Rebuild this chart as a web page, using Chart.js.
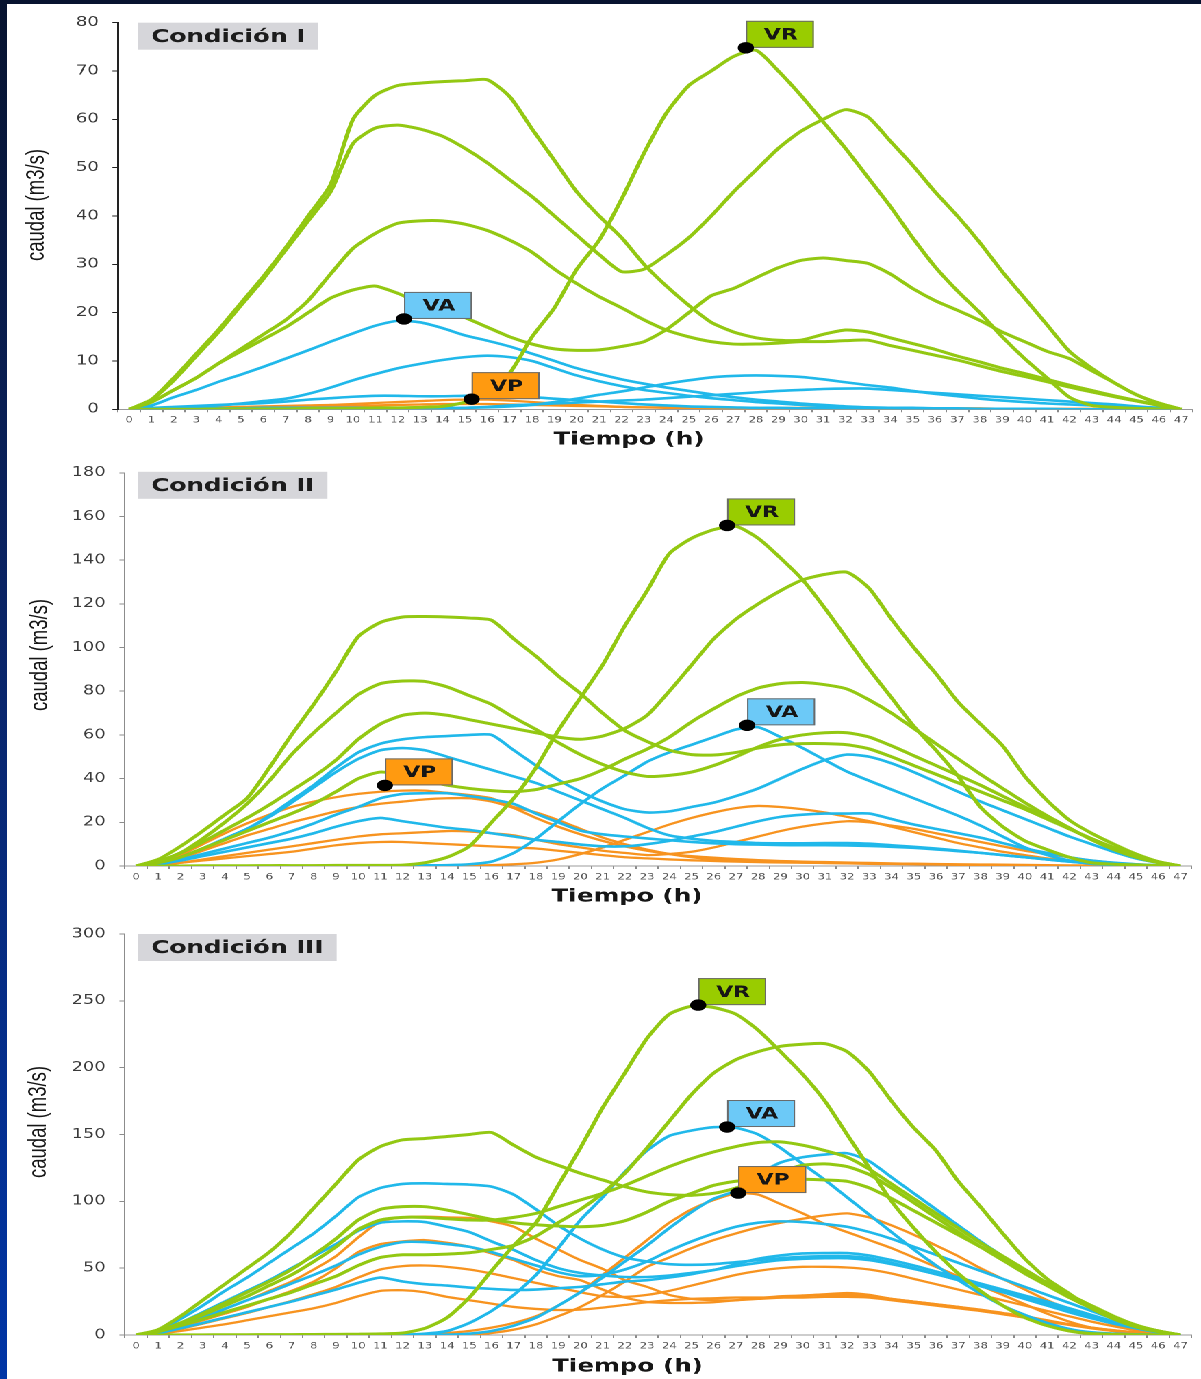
<!DOCTYPE html>
<html>
<head>
<meta charset="utf-8">
<script src="https://cdn.jsdelivr.net/npm/chart.js@4.4.1/dist/chart.umd.min.js"></script>
<style>
  html,body{margin:0;padding:0;}
  body{width:1201px;height:1379px;overflow:hidden;position:relative;
       background:linear-gradient(#07132f 0%,#0a2466 45%,#0035a6 100%);}
  #paper{position:absolute;left:7px;top:4px;right:0;bottom:0;background:#fff;}
  #stage{position:absolute;left:0;top:0;width:877px;height:1379px;
         transform:scaleX(1.36944);transform-origin:0 0;}
  canvas{position:absolute;left:0;}
</style>
</head>
<body>
<div id="paper"></div>
<div id="stage">
  <canvas id="c1" width="877" height="455" style="top:0px"></canvas>
  <canvas id="c2" width="877" height="455" style="top:455px"></canvas>
  <canvas id="c3" width="877" height="469" style="top:910px"></canvas>
</div>
<script>
// ---------- categories / texts ----------
const hours = ['0','1','2','3','4','5','6','7','8','9','10','11','12','13','14','15','16','17','18','19','20','21','22','23','24','25','26','27','28','29','30','31','32','33','34','35','36','37','38','39','40','41','42','43','44','45','46','47'];
const conditionTitles = ['Condición I', 'Condición II', 'Condición III'];
const xTitle = 'Tiempo (h)';
const yTitle = 'caudal (m3/s)';
const yTicks1 = [0, 80, 10];
const yTicks2 = [0, 180, 20];
const yTicks3 = [0, 300, 50];

// ---------- Condición I ----------
const c1Green68 = [0,2,6.5,11.5,16.5,22,27.5,33.5,40,46.5,60,65,67,67.5,67.8,68,68.2,64.7,58,51.5,45,40,35.5,30,25.5,21.5,18,16,14.8,14.3,14.3,15.5,16.4,16,14.8,13.6,12.4,11,9.8,8.5,7.4,6.2,5,3.9,2.8,1.8,0.9,0];
const c1Green58 = [0,2,6,11,16,21.5,27,33,39,45,55,58.2,58.8,58,56.5,54,51,47.5,44,40,36,32,28.5,29,32,35.5,40,45,49.5,54,57.5,60,62,60.5,55.5,50.5,45,40,34.5,28.5,23,17.5,12,8.5,5.5,3,1.2,0];
const c1Green39 = [0,1.5,4,6.5,9.5,12.5,15.5,18.5,22.5,28,33.3,36.4,38.5,39,39,38.3,37,35,32.5,29,26,23.3,21,18.5,16.4,15,14,13.5,13.5,13.7,14,14,14.2,14.3,13.2,12.2,11.2,10.2,9,7.8,6.8,5.7,4.6,3.6,2.6,1.7,0.8,0];
const c1Green25 = [0,1.5,4,6.5,9.5,12,14.5,17,20,23,24.7,25.5,24,22,21,19,17,15,13.5,12.5,12.2,12.3,13,14,16.5,20,23.5,25,27.2,29.3,30.8,31.3,30.8,30.2,28,25,22.5,20.5,18.4,16,14,12,10.5,8,5.5,3,1.3,0];
const c1GreenVR = [0,0,0,0,0.1,0.1,0.1,0.1,0.2,0.2,0.2,0.3,0.3,0.4,0.6,1.5,4,7.5,15,21,29,35,43.5,53,61.3,67,70,73,74.3,70,65,59.5,54,48,42,35.5,29.5,24.5,20,15,10.5,6.5,2.5,0.8,0.4,0.2,0.1,0];
const c1BlueVA = [0,0.8,2.5,4,5.7,7.2,8.8,10.5,12.2,14,15.7,17.3,18.3,18,16.8,15.3,14.2,13,11.5,10,8.5,7.3,6.2,5.3,4.5,3.8,3.1,2.5,2,1.6,1.2,0.9,0.6,0.4,0.3,0.2,0.2,0.1,0.1,0.1,0.1,0,0,0,0,0,0,0];
const c1Blue11 = [0,0.2,0.4,0.6,0.8,1.2,1.7,2.2,3.2,4.5,6,7.3,8.5,9.4,10.2,10.8,11.1,10.8,10,8.5,7,5.8,4.8,4,3.4,2.8,2.3,1.9,1.5,1.2,0.9,0.7,0.5,0.4,0.3,0.3,0.2,0.2,0.1,0.1,0.1,0.1,0,0,0,0,0,0];
const c1Blue7 = [0,0.1,0.1,0.2,0.2,0.2,0.3,0.3,0.3,0.3,0.3,0.3,0.3,0.3,0.3,0.3,0.4,0.6,0.9,1.5,2.2,3,3.7,4.5,5.3,6,6.6,6.9,7,6.9,6.7,6.2,5.6,5,4.5,3.8,3.2,2.7,2.2,1.8,1.5,1.2,1,0.8,0.6,0.4,0.2,0];
const c1Blue4 = [0,0.1,0.1,0.1,0.1,0.1,0.1,0.1,0.1,0.1,0.1,0.1,0.1,0.1,0.1,0.3,0.5,0.8,1,1.2,1.4,1.6,1.8,2,2.3,2.6,2.9,3.2,3.5,3.8,4,4.2,4.3,4.3,4,3.7,3.4,3.1,2.8,2.5,2.2,1.9,1.6,1.3,1,0.6,0.3,0];
const c1Blue3 = [0,0.3,0.5,0.7,0.9,1.1,1.3,1.6,2,2.3,2.6,2.8,2.8,2.7,2.7,2.8,2.8,2.7,2.5,2.2,1.9,1.6,1.3,1,0.8,0.6,0.5,0.4,0.3,0.3,0.2,0.2,0.2,0.1,0.1,0.1,0.1,0.1,0.1,0.1,0,0,0,0,0,0,0,0];
const c1OrangeVP = [0,0.1,0.2,0.3,0.4,0.5,0.6,0.7,0.8,0.9,1.1,1.3,1.5,1.7,1.9,2,2,1.8,1.5,1.2,0.9,0.7,0.5,0.4,0.3,0.3,0.2,0.2,0.2,0.2,0.1,0.1,0.1,0.1,0.1,0.1,0.1,0.1,0.1,0.1,0.1,0,0,0,0,0,0,0];
const c1Orange1 = [0,0.1,0.1,0.2,0.2,0.3,0.3,0.4,0.5,0.6,0.7,0.8,0.9,1,1.1,1.1,1.1,1,0.9,0.8,0.7,0.6,0.5,0.4,0.4,0.3,0.3,0.3,0.3,0.3,0.3,0.3,0.3,0.3,0.2,0.2,0.2,0.2,0.2,0.1,0.1,0.1,0.1,0.1,0,0,0,0];

// ---------- Condición II ----------
const c2Green114 = [0,3,9,16,23.5,31,45,60,74,89,105,111.5,114,114.2,114,113.5,112.5,104,96,87,79,70,62,57,53,51,50.8,52,54,55.5,56,56,55.5,53.6,50,46,42,38,34,30,26,21.5,17,12.5,8.5,5,2,0];
const c2Green85 = [0,2,6,12.5,20,28.5,39,51,61,70,78.5,83.5,84.7,84.5,82,78,74,68,62.5,56.5,51,46.5,43,41,41.5,43,46,50,54.5,58,60,61,61,59,55,50.5,46,41.5,37,32,27,22,17,12.5,8,4.5,1.8,0];
const c2Green70 = [0,2,6,11,16.5,22,28,34.5,41,48.5,58,65,69,70,69,67,65,63,61,59,58,59.5,63,69,80,92,104,113,120,126,131,133.5,134.5,127,113,100,88,75,65,55,41,30,21,15,10,5.5,2,0];
const c2Green43 = [0,1.5,4,8,12,16,20,24,28.5,34,40,43,41.5,39,37,35.5,34.5,34,35,37.5,40,44,49,53.5,59,66,72,77.5,81.5,83.5,84,83,81,76,70,63,56,49,42,35.5,29,23,17.5,12,7.5,4,1.5,0];
const c2GreenVR = [0,0,0,0.1,0.1,0.1,0.2,0.2,0.2,0.3,0.3,0.3,0.4,1.5,4,9,20,31,45,62,77,92,110,126,143,150,154,155.5,150,141,131,118,104,90,77,64,53,41,27,18,11.5,7.5,4,1.5,0.8,0.5,0.2,0];
const c2Blue58 = [0,1,4,8,12.5,17,23,30,37,45,52,56,58,59,59.5,60,60,53,46,39.5,34,29.5,26,24.5,25,27,29,32,35.5,40,44.5,48.5,51,50,47,43,38.5,34,29.5,25.5,21.5,17.5,13.5,10,6.5,3.5,1.5,0];
const c2Blue54 = [0,1,4,8,12.5,17,22.5,29,36,43,49,53,54,53,50,47,44,41,38,34,30,26,22,17.5,14,12.5,11.5,11,10.5,10.4,10.4,10.5,10.5,10.2,9.5,8.8,8,7,6,5,4,3,2,1.2,0.6,0.3,0.1,0];
const c2Blue33 = [0,1,3,5.5,8,10.5,13,16,19.5,23.5,27,31,33,33.3,33.3,32,30.5,28.4,24,20,16.2,14.5,13.5,12.6,11.8,11,10.4,10,9.8,9.6,9.5,9.5,9.4,9.2,8.8,8.3,7.6,6.8,6,5,4,3,2,1.2,0.7,0.3,0.1,0];
const c2Blue22 = [0,0.8,2.5,4.5,6.5,8.5,10.5,12.5,15,18,20.5,22,20.5,19,17.5,16.5,15,13.5,12,11,9.8,9,9,10,11.5,13.5,15.5,18,20.5,22.5,23.5,24,24,24,21.5,19,17,15,13,10.5,8,6,4,2.5,1.5,0.8,0.3,0];
const c2BlueVA = [0,0,0,0,0,0.1,0.1,0.1,0.1,0.1,0.2,0.2,0.2,0.3,0.4,0.8,2,6,12.5,20.5,28.4,35.5,41.5,47.7,52,55.5,59,62.5,63.5,59,54,48.5,43.2,39,35,31,27,23,18.5,13.5,8.5,5,2.5,1,0.5,0.2,0.1,0];
const c2OrangeVP = [0,1.5,5,10,15,19.5,23.5,27,29.5,31.5,33,34,34.5,34.5,33.5,32.5,31,27,24.5,21,17,13,10,7.5,5.5,4,3,2.5,2,1.8,1.6,1.4,1.2,1,0.9,0.8,0.7,0.6,0.5,0.4,0.3,0.2,0.1,0,0,0,0,0];
const c2Orange31 = [0,1,3.5,7,10.5,14,17,20,22.5,25,27,28.5,29.5,30.5,31,31,29.5,26.5,22,18,14.5,11.5,9,7,5.5,4.5,3.8,3.2,2.7,2.3,2,1.8,1.6,1.4,1.2,1,0.8,0.6,0.5,0.4,0.3,0.2,0.1,0,0,0,0,0];
const c2Orange16 = [0,0.5,1.5,3,4.5,6,7.5,9,10.5,12,13.5,14.5,15,15.5,16,15.8,15,14,12,10,8.5,7,6,5,5.5,6.5,8.5,11,13.5,16,18,19.5,20.5,20,18.5,17,15,13,11,9,7,5.5,4,2.5,1.5,0.8,0.3,0];
const c2Orange11 = [0,0.5,1.5,2.5,3.5,4.5,5.5,6.5,8,9.5,10.5,11,11,10.5,10,9.5,9,8.5,8,7,6,5,4,3.5,3,2.6,2.3,2,1.8,1.6,1.5,1.4,1.3,1.2,1.1,1,0.9,0.8,0.7,0.6,0.5,0.4,0.3,0.2,0.1,0,0,0];
const c2Orange27 = [0,0,0,0,0.1,0.1,0.1,0.1,0.2,0.2,0.2,0.2,0.3,0.3,0.3,0.3,0.4,0.8,1.5,3,5.5,8.5,12,15.5,19,22,24.5,26.5,27.5,27,26,24.5,22.5,20.5,18,15.5,13,10.5,8.5,6.5,5,3.5,2.5,1.5,1,0.5,0.2,0];

// ---------- Condición III ----------
const c3Green150 = [0,4,14,26,38,50,62,77,95,113,131,141,146,147,148.5,150,151.5,142,133,127,121,116,111,107,105,104.5,106,110,116,122,127,128,126,120,110,99,88,77,66,56,46,37,28,20,13,7,3,0];
const c3Green60 = [0,2.5,7,12,17,22,27,32,38,44,52,58,60,60,60.5,61.5,64,67,74,84,94,106,121,140,160,180,196,206,212,216,217.5,218,212,197,175,155,138,115,96,76,57,42,31,20,12,6,2.5,0];
const c3Green96 = [0,3,9,16,24,32,40,49,60,72,86,94,96,96,93.5,90,86.5,84,82.5,81.5,81,82,85.5,92,100,106,112,115,116,116.5,116.5,116,115,110,102,93,84,75,66,57,48,39,30,22,14,7.5,3,0];
const c3Green88 = [0,3,8.5,15,22,29,37,45,55,66,79,86,88,88,87,86,86,88,91,96,101,106,112,119,126,132,137,141,144,144.5,142,138,133,124,113,102,91,80,69,59,49,39,30,21,13,7,3,0];
const c3GreenVR = [0,0,0.1,0.1,0.2,0.2,0.3,0.3,0.4,0.5,0.6,0.8,1.5,5,13,28,48,67,84,112,140,170,196,222,240,246,245,240,228,212,195,175,150,125,100,80,62,46,33,22,13,7,3,1,0.5,0.2,0.1,0];
const c3Blue114 = [0,3,12,22,33,43,54,65,76,89,103,110,113,113.5,113,112.5,111,105,94,82,72,64,58,55,53,52.5,53,54.5,56,57.5,58.5,59,59,57.5,54,50,45.5,41,36.5,32,27,22,17,12.5,8.5,5,2,0];
const c3Blue85 = [0,2.5,9,17,25,33,41,50,59,68,78,84,85,84.5,81,77,70,63.6,56,50,46.4,44.5,43.4,43.4,44.5,46.5,48.6,53,57,59.5,61,61.3,61.3,59.5,56,52,47.5,43,38.5,34,29.5,25,20,15,10,6,2.5,0];
const c3Blue70 = [0,2,7,13,19.5,26,32,38.5,45,52,60,66,69.5,69.5,68,66,62,57,52,47,44,45,49,55,63,70,76,81,84,85,84.5,83,81,77,72,66,60,54,48,42,36,30,24,18,12,7,3,0];
const c3Blue43 = [0,1.5,5,9,13,17,21,25,29.5,34,39,43,40,38,37,35.5,34.5,33.7,34,35,36,38,40,41,43,45.5,48.6,51.5,54,56,57,57.5,57.5,56,53,49.5,45.5,41.5,37,32.5,28,23.5,19,14,9.5,5.5,2.5,0];
const c3BlueVA = [0,0,0,0,0,0,0.1,0.1,0.1,0.1,0.2,0.2,0.2,1,3,9,18,30,45,65,86,103,122,138,149,153,155.5,155,150,140,128,116,103,90,77,64,52,41,31,22,15,9,4.5,2,1,0.5,0.2,0];
const c3Blue136 = [0,0,0,0,0,0,0,0.1,0.1,0.1,0.1,0.1,0.2,0.2,0.2,1,3,7,13,22,32,43,55,67,80,92,102,108,120,129,133,135,136,130,118,106,94,82,70,59,48,38,29,20,13,7,3,0];
const c3OrangeVP = [0,0,0,0,0,0.1,0.1,0.1,0.1,0.1,0.1,0.2,0.2,0.2,1.5,3,5.5,9,14,22,32,45,58,71,84,94,101,106,105,98,91,83,77,71,65,58,51,44,37,30,23,16,10,5.5,3,1.5,0.5,0];
const c3Orange91 = [0,0,0,0,0,0,0.1,0.1,0.1,0.1,0.1,0.1,0.2,0.2,0.2,0.2,1.5,4,8,14,21,30,40,51,58,65,71,76,80.5,84,87,89.5,91,88,82,75,67,59,50,42,34,26,19,13,8,4,1.5,0];
const c3Orange88 = [0,2,7,13,19.5,26,33,40,49,59,73,85,88,88.5,88,87.5,85,81,72,64,56,49.5,41,36,30,27,26,26,27,28,29.5,30.5,31.4,30,27,25,23,21,19,16.5,14,11,8,5.5,3.5,2,0.8,0];
const c3Orange70 = [0,2,6,11,16,21,27,33,40,50,62,68,70,71,69,66,61,56,49,44,41,34,28,24.7,24,24,24.5,26,27.5,29,29.5,30,30,29,27,25,23,21,18.5,16,13,10.5,8,5.5,3.5,2,0.8,0];
const c3Orange51 = [0,1.5,4.5,8.5,12.5,16.5,21,25.5,30.5,36,43,49,51.5,52,51,49,46,42.5,39,35.5,32,29,28.5,30,33,37,41,45,48,50,51,51,50.5,49,46,42,38,34,30,26,22,18,14,10,6.5,3.5,1.5,0];
const c3Orange33 = [0,1,3,5.5,8,11,14,17,20,24,29,33,33.5,32,28.5,26,23.5,21,19.5,18.7,19,20.5,22.5,24.5,26,27,27.5,28,28,28,28,28.5,28.5,28,26,24,22,20,18,15.5,13,10,7.5,5,3,1.5,0.6,0];

// ---------- peak labels: [text, hour position, value, box colour] ----------
const c1Notes = [['VR', 27.55, 74.8, '#99cc00'], ['VA', 12.28, 18.7, '#6cc9f7'], ['VP', 15.3, 2.1, '#ff9a10']];
const c2Notes = [['VR', 26.6, 155.9, '#99cc00'], ['VA', 27.5, 64.4, '#6cc9f7'], ['VP', 11.2, 36.9, '#ff9a10']];
const c3Notes = [['VR', 25.3, 246.8, '#99cc00'], ['VA', 26.6, 155.6, '#6cc9f7'], ['VP', 27.1, 106.2, '#ff9a10']];

// ---------- styling ----------
const GREEN = '#93c812', BLUE = '#20b8ea', ORANGE = '#f7931f';
const S = 1201 / 877;

function line(data, color) {
  const w = color === GREEN ? 3 : (color === BLUE ? 2.6 : 2.3);
  return { data, borderColor: color, borderWidth: w, pointRadius: 0, fill: false, tension: 0.22 };
}

const decor = {
  id: 'decor',
  afterDraw(chart, args, o) {
    const { ctx, chartArea: a, scales: { x, y } } = chart;
    ctx.save();
    // condition box
    ctx.font = 'bold 18px "DejaVu Sans"';
    const tw = ctx.measureText(o.title).width;
    ctx.fillStyle = '#d6d6da';
    ctx.fillRect(101, a.top + o.boxDy, tw + 19, 27);
    ctx.fillStyle = '#1c1c1c';
    ctx.textAlign = 'left';
    ctx.textBaseline = 'middle';
    ctx.fillText(o.title, 110.5, a.top + o.boxDy + 14.5);
    // peak labels
    for (const [lab, i, v, col] of o.notes) {
      const px = x.getPixelForValue(i), py = y.getPixelForValue(v);
      ctx.fillStyle = col;
      ctx.fillRect(px, py - 27, 49.6, 27);
      ctx.strokeStyle = '#6a6a6a';
      ctx.lineWidth = 1;
      ctx.strokeRect(px + 0.5, py - 26.5, 48.6, 26);
      ctx.fillStyle = '#161616';
      ctx.font = 'bold 16px "DejaVu Sans"';
      ctx.textAlign = 'center';
      ctx.fillText(lab, px + 25.5, py - 12.5);
      ctx.beginPath();
      ctx.ellipse(px, py, 5.9, 5.7, 0, 0, Math.PI * 2);
      ctx.fillStyle = '#000';
      ctx.fill();
    }
    // axis titles
    ctx.fillStyle = '#161616';
    ctx.font = 'bold 18px "DejaVu Sans"';
    ctx.textAlign = 'center';
    ctx.fillText(xTitle, o.xt[0], o.xt[1]);
    ctx.translate(o.yt[0], o.yt[1]);
    ctx.rotate(-Math.PI / 2);
    ctx.font = '18.5px "Liberation Sans"';
    ctx.fillText(yTitle, 0, 0);
    ctx.restore();
  }
};

function makeChart(id, datasets, yt, p) {
  return new Chart(document.getElementById(id), {
    type: 'line',
    data: { labels: hours, datasets },
    options: {
      responsive: false,
      animation: false,
      devicePixelRatio: 2,
      layout: { padding: { top: p.padTop, right: p.padRight, left: 0, bottom: 0 } },
      plugins: { legend: { display: false }, tooltip: { enabled: false }, decor: p.decor },
      scales: {
        x: {
          type: 'category',
          offset: true,
          grid: { offset: true, drawOnChartArea: false, drawTicks: true, tickLength: 3, color: '#8a8a8a' },
          border: { display: true, color: '#9a9a9a', width: 1 },
          ticks: { autoSkip: false, maxRotation: 0, minRotation: 0, padding: 3, color: '#555', font: { family: 'DejaVu Sans', size: 8.5 } },
          afterFit(s) { s.height = p.xh; }
        },
        y: {
          min: yt[0], max: yt[1],
          grid: { drawOnChartArea: false, drawTicks: true, tickLength: 4, color: p.axisColor },
          border: { display: true, color: p.axisColor, width: p.axisWidth },
          ticks: { stepSize: yt[2], padding: 10, color: '#3a3a3a', font: { family: 'DejaVu Sans', size: 13 } },
          afterFit(s) { s.width = p.yW; }
        }
      }
    },
    plugins: [decor]
  });
}

makeChart('c1', [
  line(c1GreenVR, GREEN), line(c1Green68, GREEN), line(c1Green58, GREEN), line(c1Green39, GREEN), line(c1Green25, GREEN),
  line(c1BlueVA, BLUE), line(c1Blue11, BLUE), line(c1Blue7, BLUE), line(c1Blue4, BLUE), line(c1Blue3, BLUE),
  line(c1OrangeVP, ORANGE), line(c1Orange1, ORANGE)
], yTicks1, {
  padTop: 22.7, padRight: 6.2, xh: 45.7, yW: 86.1, axisColor: '#222', axisWidth: 1.5,
  decor: { title: conditionTitles[0], notes: c1Notes, boxDy: 0, xt: [629 / S, 440], yt: [27, 205] }
});

makeChart('c2', [
  line(c2GreenVR, GREEN), line(c2Green114, GREEN), line(c2Green85, GREEN), line(c2Green70, GREEN), line(c2Green43, GREEN),
  line(c2BlueVA, BLUE), line(c2Blue58, BLUE), line(c2Blue54, BLUE), line(c2Blue33, BLUE), line(c2Blue22, BLUE),
  line(c2OrangeVP, ORANGE), line(c2Orange31, ORANGE), line(c2Orange16, ORANGE), line(c2Orange11, ORANGE), line(c2Orange27, ORANGE)
], yTicks2, {
  padTop: 11, padRight: 6.9, xh: 44, yW: 91.2, axisColor: '#8c8c8c', axisWidth: 1,
  decor: { title: conditionTitles[1], notes: c2Notes, boxDy: -1, xt: [627 / S, 442], yt: [29.2, 200] }
});

makeChart('c3', [
  line(c3GreenVR, GREEN), line(c3Green150, GREEN), line(c3Green60, GREEN), line(c3Green96, GREEN), line(c3Green88, GREEN),
  line(c3BlueVA, BLUE), line(c3Blue114, BLUE), line(c3Blue85, BLUE), line(c3Blue70, BLUE), line(c3Blue43, BLUE), line(c3Blue136, BLUE),
  line(c3OrangeVP, ORANGE), line(c3Orange91, ORANGE), line(c3Orange88, ORANGE), line(c3Orange70, ORANGE), line(c3Orange51, ORANGE), line(c3Orange33, ORANGE)
], yTicks3, {
  padTop: 24, padRight: 6.9, xh: 44, yW: 91.2, axisColor: '#8c8c8c', axisWidth: 1,
  decor: { title: conditionTitles[2], notes: c3Notes, boxDy: 0, xt: [627.5 / S, 457], yt: [28.5, 212] }
});
</script>
</body>
</html>
